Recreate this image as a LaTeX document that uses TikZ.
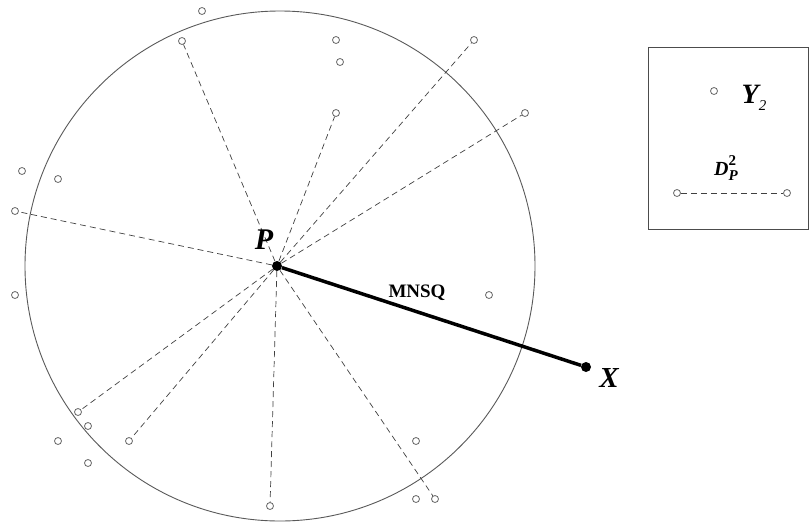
\documentclass[tikz,border=0pt]{standalone}
\usepackage{fontspec}
\setmainfont{Liberation Serif}
\usetikzlibrary{calc}

\newcommand{\fsz}[1]{\fontsize{#1}{#1}\selectfont}

\tikzset{
  pt/.style={draw=black!60, circle, inner sep=0pt, minimum size=7pt, line width=0.8pt},
  dot/.style={fill=black, circle, inner sep=0pt, minimum size=10pt},
  ray/.style={dash pattern=on 6pt off 4pt, black!75, line width=0.7pt},
}

\begin{document}
\begin{tikzpicture}[x=1pt,y=-1pt]
\useasboundingbox (0,0) rectangle (809,523);

% the big circle
\draw[black!65, line width=0.9pt] (280,266) circle (255);

% observations
\foreach \n/\x/\y in {a/202/11, b/182/41, c/22/171, d/58/179, e/15/211,
  f/336/40, g/340/62, h/336/113, i/474/40, j/525/113, k/15/295,
  l/78/412, m/88/426, n/58/441, o/129/441, p/88/463, q/270/506,
  r/489/295, s/416/441, t/416/499, u/435/499}
  \node[pt] (\n) at (\x,\y) {};

\node[dot] (P) at (277,266) {};
\node[dot] (X) at (586,367) {};

% distances from P
\foreach \n in {b,e,h,i,j,l,o,q,u}
  \draw[ray] (P) -- (\n);

\draw[line width=3.5pt] (P) -- (X);

\node[font=\fsz{30}\bfseries\itshape] (lP) at (264,240) {P};
\node[font=\fsz{29}\bfseries\itshape] (lX) at (609,378) {X};
\node[font=\fsz{19}\bfseries] (lM) at (417,293) {MNSQ};

% legend
\draw[black!70, line width=0.9pt] (648,47) rectangle (808,229);
\node[pt] (ya) at (714,91) {};
\node (lY) at (754,98) {{\fsz{28}\bfseries\itshape Y}\raisebox{-7pt}{\fsz{15}\itshape 2}};
\node[pt] (la) at (677,193) {};
\node[pt] (lb) at (787,193) {};
\draw[ray] (la) -- (lb);
\node (lD) at (726,168) {{\fsz{20}\bfseries\itshape D}\raisebox{10pt}{\makebox[0pt][l]{\fsz{15}\bfseries 2}}\raisebox{-5pt}{\fsz{15}\bfseries\itshape P}};
\end{tikzpicture}
\end{document}
